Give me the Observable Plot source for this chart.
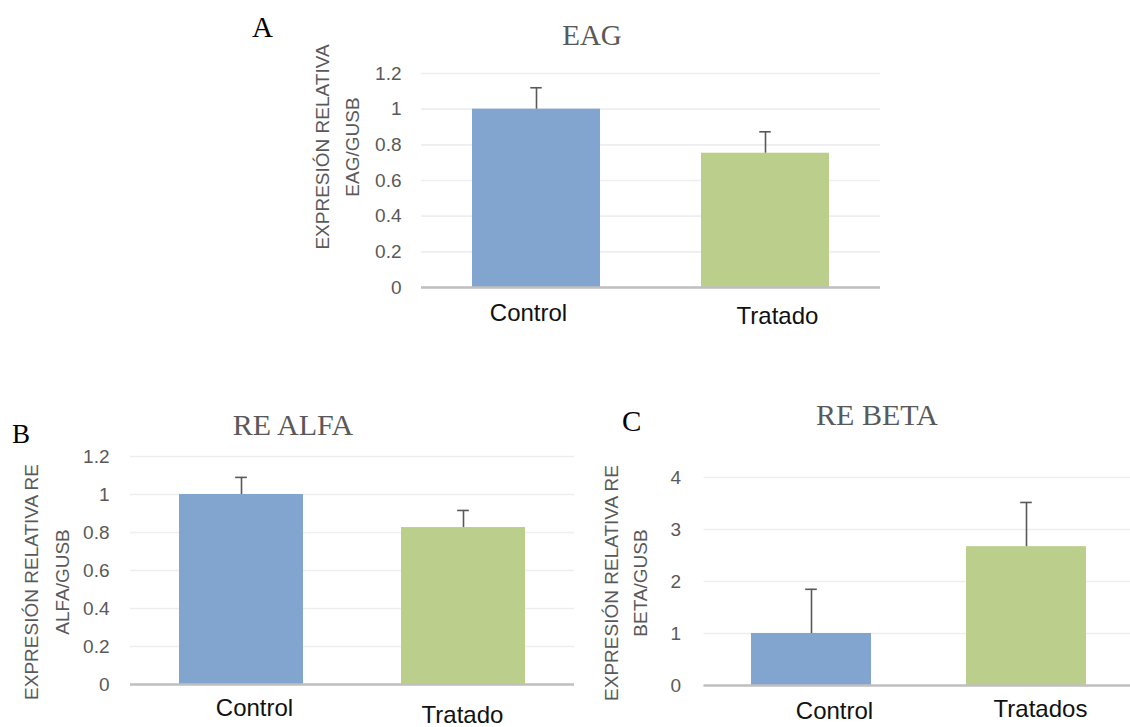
<!DOCTYPE html>
<html>
<head>
<meta charset="utf-8">
<script src="https://cdn.jsdelivr.net/npm/d3@7"></script>
<script src="https://cdn.jsdelivr.net/npm/@observablehq/plot@0.6"></script>
<style>
  html, body { margin: 0; padding: 0; background: #fff; }
  #root { position: relative; width: 1130px; height: 727px; overflow: hidden; background: #fff; }
  .panel { position: absolute; line-height: 0; }
  .panel svg { overflow: visible; max-width: none !important; display: block; }
  #overlay { position: absolute; left: 0; top: 0; pointer-events: none; }
</style>
</head>
<body>
<div id="root"></div>
<script>
// ---------- data ----------
const categoriesA = ["Control", "Tratado"];
const valuesA = [1.0, 0.753];
const errorsA = [0.12, 0.12];

const categoriesB = ["Control", "Tratado"];
const valuesB = [1.0, 0.826];
const errorsB = [0.09, 0.09];

const categoriesC = ["Control", "Tratados"];
const valuesC = [1.0, 2.67];
const errorsC = [0.85, 0.85];

const ticksAB = [0, 0.2, 0.4, 0.6, 0.8, 1, 1.2];
const tickLabelsAB = ["0", "0.2", "0.4", "0.6", "0.8", "1", "1.2"];
const ticksC = [0, 1, 2, 3, 4];
const tickLabelsC = ["0", "1", "2", "3", "4"];

const titles = ["EAG", "RE ALFA", "RE BETA"];
const letters = ["A", "B", "C"];
const yTitleA = ["EXPRESIÓN RELATIVA", "EAG/GUSB"];
const yTitleB = ["EXPRESIÓN RELATIVA RE", "ALFA/GUSB"];
const yTitleC = ["EXPRESIÓN RELATIVA RE", "BETA/GUSB"];

const barColors = ["#82a5cf", "#bbce8c"];
// ---------------------------

const SANS = "'Liberation Sans', Arial, sans-serif";
const SERIF = "'Liberation Serif', 'Times New Roman', serif";
const GRAY = "#595959";
const PAD_IN = 0.44;

function panel({cats, vals, errs, ticks, labels, yMax, left, top, width, height,
                mL, mR, mT, mB, tickPad, xPads, xShift}) {
  const data = cats.map((c, i) => ({cat: c, value: vals[i], err: errs[i]}));
  const plotW = width - mL - mR;
  const band = plotW / cats.length * (1 - PAD_IN);
  const capInset = (band - 12) / 2;
  const chart = Plot.plot({
    width, height,
    marginLeft: mL, marginRight: mR, marginTop: mT, marginBottom: mB,
    style: {background: "transparent", fontFamily: SANS, overflow: "visible"},
    x: {domain: cats, paddingInner: PAD_IN, paddingOuter: PAD_IN / 2, axis: null},
    y: {domain: [0, yMax], axis: null},
    color: {domain: cats, range: barColors},
    marks: [
      Plot.gridY(ticks, {stroke: "#eeeeee", strokeOpacity: 1, strokeWidth: 1.7}),
      Plot.axisY(ticks, {
        tickSize: 0, tickPadding: tickPad, fontSize: 19, color: GRAY, label: null,
        fontFamily: SANS, tickFormat: d => labels[ticks.indexOf(d)]
      }),
      Plot.barY(data, {x: "cat", y: "value", fill: "cat"}),
      Plot.ruleY([0], {stroke: "#bfbfbf", strokeWidth: 2.6}),
      Plot.ruleX(data, {x: "cat", y1: "value", y2: d => d.value + d.err, stroke: GRAY, strokeWidth: 1.6}),
      Plot.tickY(data, {x: "cat", y: d => d.value + d.err, insetLeft: capInset, insetRight: capInset,
                        stroke: GRAY, strokeWidth: 1.6}),
      ...cats.map((c, i) => Plot.axisX([c], {
        tickSize: 0, tickPadding: xPads[i], dx: xShift[i], fontSize: 24, color: "#111",
        fontFamily: SANS, label: null
      }))
    ]
  });
  chart.style.maxWidth = "none";
  const div = document.createElement("div");
  div.className = "panel";
  div.style.left = left + "px";
  div.style.top = top + "px";
  div.style.width = width + "px";
  div.style.height = height + "px";
  div.appendChild(chart);
  document.getElementById("root").appendChild(div);
}

// Panel A: plot area x 421..880, y(1.2)=73 .. y(0)=287
panel({cats: categoriesA, vals: valuesA, errs: errorsA, ticks: ticksAB, labels: tickLabelsAB, yMax: 1.2,
       left: 360, top: 50, width: 540, height: 290, mL: 61, mR: 20, mT: 23, mB: 53,
       tickPad: 20, xPads: [16, 19], xShift: [-8, 12]});
// Panel B: plot area x 130..574, y(1.2)=456 .. y(0)=684
panel({cats: categoriesB, vals: valuesB, errs: errorsB, ticks: ticksAB, labels: tickLabelsAB, yMax: 1.2,
       left: 60, top: 430, width: 530, height: 297, mL: 70, mR: 16, mT: 26, mB: 43,
       tickPad: 21, xPads: [14, 21], xShift: [13, -1]});
// Panel C: plot area x 703.5..1133.5, y(4)=477 .. y(0)=685
panel({cats: categoriesC, vals: valuesC, errs: errorsC, ticks: ticksC, labels: tickLabelsC, yMax: 4,
       left: 650, top: 440, width: 490, height: 287, mL: 53.5, mR: 6.5, mT: 37, mB: 42,
       tickPad: 23, xPads: [16, 14], xShift: [23, 14]});

// ---------- overlay text: letters, titles, y-axis titles ----------
const svg = d3.select("#root").append("svg")
  .attr("id", "overlay").attr("width", 1130).attr("height", 727);

const letterPos = [[252, 37, 29], [12, 443, 27], [622, 431, 29]];
letters.forEach((t, i) => {
  svg.append("text").text(t)
    .attr("x", letterPos[i][0]).attr("y", letterPos[i][1])
    .attr("font-family", SERIF).attr("font-size", letterPos[i][2]).attr("fill", "#000");
});

const titlePos = [[592, 45, 29], [293, 435, 30], [877, 425, 30]];
titles.forEach((t, i) => {
  svg.append("text").text(t)
    .attr("x", titlePos[i][0]).attr("y", titlePos[i][1])
    .attr("text-anchor", "middle")
    .attr("font-family", SERIF).attr("font-size", titlePos[i][2]).attr("fill", GRAY);
});

function yTitle(lines, xs, cy) {
  lines.forEach((t, i) => {
    svg.append("text").text(t)
      .attr("transform", `translate(${xs[i]},${cy}) rotate(-90)`)
      .attr("text-anchor", "middle").attr("dy", "0.36em")
      .attr("font-family", SANS).attr("font-size", 19).attr("fill", GRAY);
  });
}
yTitle(yTitleA, [322, 352], 147);
yTitle(yTitleB, [31, 62], 582);
yTitle(yTitleC, [611, 640.5], 583);
</script>
</body>
</html>
